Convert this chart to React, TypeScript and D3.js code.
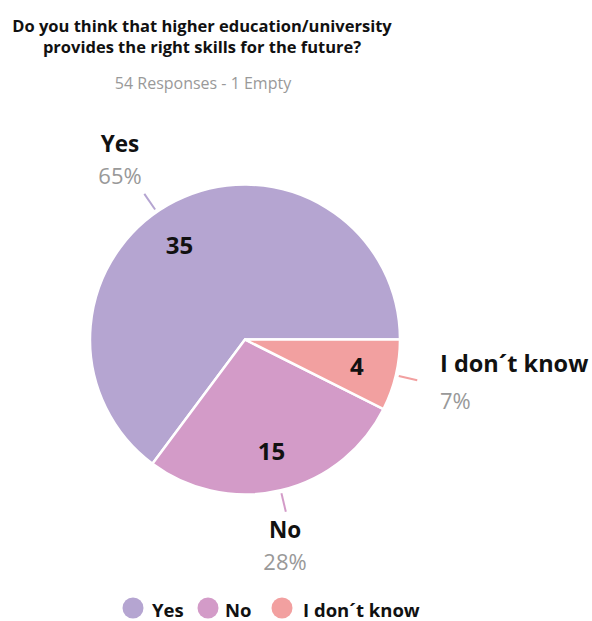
import React from "react";
import * as d3 from "d3";

const categories = ["Yes", "No", "I don´t know"];
const counts = [35, 15, 4];
const percents = ["65%", "28%", "7%"];
const colors = ["#b5a5d1", "#d39bc8", "#f2a0a0"];
const titleLines = [
  "Do you think that higher education/university",
  "provides the right skills for the future?",
];
const subtitle = "54 Responses - 1 Empty";

const W = 592;
const H = 621;
const cx = 245;
const cy = 339.5;
const R = 155;
const FONT = "'Open Sans', sans-serif";
const deg = Math.PI / 180;

export default function App() {
  const pie = d3
    .pie<number>()
    .sort(null)
    .value((d) => d)
    .startAngle(Math.PI / 2 + 2 * Math.PI)
    .endAngle(Math.PI / 2);
  const arcs = pie(counts);
  const arc = d3.arc<any>().innerRadius(0).outerRadius(R);

  const pt = (a: number, r: number) => [cx + r * Math.sin(a), cy - r * Math.cos(a)];
  // small angular nudge of the label anchor per slice (layout only)
  const angleShift = [-8 * deg, 0, 0];
  const midAngle = (a: any, i: number) => (a.startAngle + a.endAngle) / 2 + angleShift[i];

  const labelPos = [
    { anchor: "middle", x: 120, y1: 152, y2: 184 },
    { anchor: "middle", x: 285, y1: 538, y2: 570 },
    { anchor: "start", x: 440, y1: 372, y2: 409 },
  ];
  const legendX = [133, 208, 282];
  const legendTextDx = [19, 17, 21];

  return (
    <svg width={W} height={H} style={{ position: "absolute", left: 0, top: 0, background: "#fff" }}>
      <rect width={W} height={H} fill="#fff" />
      {titleLines.map((t, i) => (
        <text key={i} x={202} y={32 + i * 21} textAnchor="middle" fontFamily={FONT} fontWeight="bold" fontSize={16.5} fill="#111">
          {t}
        </text>
      ))}
      <text x={203} y={89} textAnchor="middle" fontFamily={FONT} fontSize={16} fill="#999">
        {subtitle}
      </text>
      <g>
        {arcs.map((a, i) => (
          <path key={i} d={arc(a) as string} transform={`translate(${cx},${cy})`} fill={colors[i]} stroke="#fff" strokeWidth={2.5} />
        ))}
        {arcs.map((a, i) => {
          const mid = midAngle(a, i);
          const p1 = pt(mid, R + 3);
          const p2 = pt(mid, R + 22);
          return <line key={i} x1={p1[0]} y1={p1[1]} x2={p2[0]} y2={p2[1]} stroke={colors[i]} strokeWidth={2} />;
        })}
        {arcs.map((a, i) => {
          const p = pt(midAngle(a, i), 115);
          return (
            <text key={i} x={p[0]} y={p[1] + 9} textAnchor="middle" fontFamily={FONT} fontWeight="bold" fontSize={24} fill="#111">
              {counts[i]}
            </text>
          );
        })}
        {categories.map((c, i) => (
          <g key={i}>
            <text x={labelPos[i].x} y={labelPos[i].y1} textAnchor={labelPos[i].anchor as any} fontFamily={FONT} fontWeight="bold" fontSize={i === 2 ? 23.5 : 22.5} fill="#111">
              {c}
            </text>
            <text x={labelPos[i].x} y={labelPos[i].y2} textAnchor={labelPos[i].anchor as any} fontFamily={FONT} fontSize={22} fill="#999">
              {percents[i]}
            </text>
          </g>
        ))}
      </g>
      <g>
        {categories.map((c, i) => (
          <g key={i}>
            <circle cx={legendX[i]} cy={608} r={10.5} fill={colors[i]} />
            <text x={legendX[i] + legendTextDx[i]} y={617} fontFamily={FONT} fontWeight="bold" fontSize={18.5} fill="#111">
              {c}
            </text>
          </g>
        ))}
      </g>
    </svg>
  );
}
